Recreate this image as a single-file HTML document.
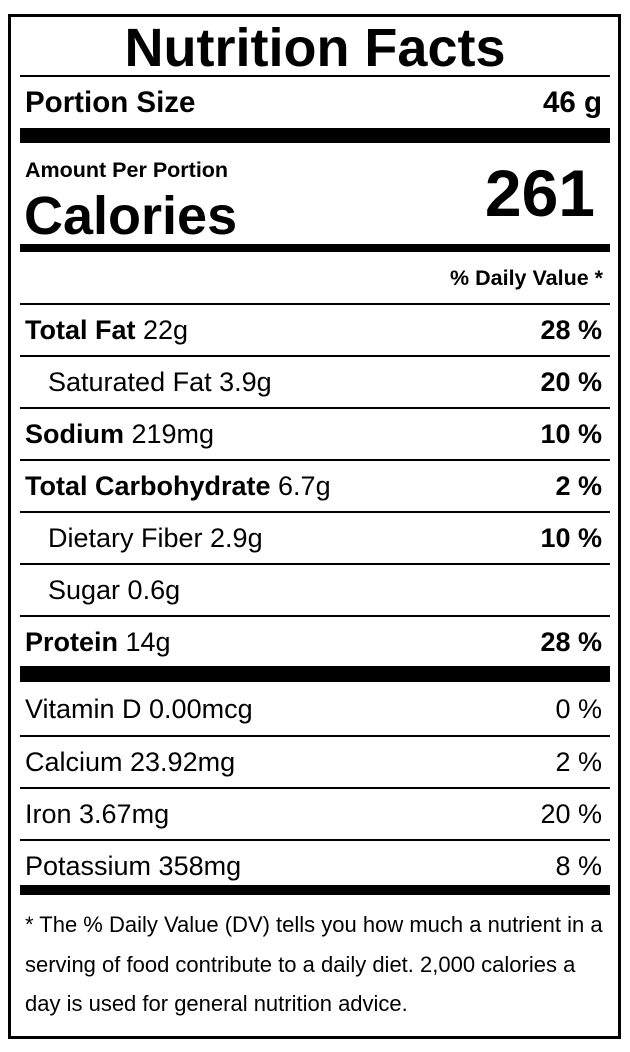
<!DOCTYPE html>
<html><head><meta charset="utf-8"><style>
*{margin:0;padding:0;box-sizing:border-box}
html,body{width:630px;height:1052px;background:#fff;overflow:hidden}
body{position:relative;font-family:"Liberation Sans",Arial,sans-serif;color:#000}
.box{position:absolute;left:8px;top:14px;width:613px;height:1025px;border:3px solid #000}
.ln{position:absolute;left:20px;width:590px;background:#000}
.t{position:absolute;white-space:nowrap}
.row{position:absolute;left:25px;width:577px;display:flex;justify-content:space-between;align-items:center;font-size:27px;height:50px}
b{font-weight:bold}
</style></head><body>
<div class="box"></div>
<div class="t" style="left:0;width:630px;text-align:center;top:17px;font-size:54px;font-weight:bold;line-height:62px">Nutrition Facts</div>
<div class="ln" style="top:75px;height:2px"></div>
<div class="row" style="top:78px;font-size:29.5px;font-weight:bold"><span>Portion Size</span><span>46 g</span></div>
<div class="ln" style="top:128px;height:15px"></div>
<div class="t" style="left:25px;top:158px;font-size:21.5px;font-weight:bold;line-height:24px">Amount Per Portion</div>
<div class="t" style="left:24px;top:186px;font-size:54px;font-weight:bold;line-height:60px">Calories</div>
<div class="t" style="right:35px;top:155px;font-size:66px;font-weight:bold;line-height:76px">261</div>
<div class="ln" style="top:244px;height:8px"></div>
<div class="t" style="right:27px;top:266px;font-size:21.5px;font-weight:bold;line-height:24px">% Daily Value *</div>
<div class="ln" style="top:303px;height:2px"></div>
<div class="row" style="top:305px"><span><b>Total Fat</b> 22g</span><b>28 %</b></div>
<div class="ln" style="top:355px;height:2px"></div>
<div class="row" style="top:357px"><span style="padding-left:23px">Saturated Fat 3.9g</span><b>20 %</b></div>
<div class="ln" style="top:407px;height:2px"></div>
<div class="row" style="top:409px"><span><b>Sodium</b> 219mg</span><b>10 %</b></div>
<div class="ln" style="top:459px;height:2px"></div>
<div class="row" style="top:461px"><span><b>Total Carbohydrate</b> 6.7g</span><b>2 %</b></div>
<div class="ln" style="top:511px;height:2px"></div>
<div class="row" style="top:513px"><span style="padding-left:23px">Dietary Fiber 2.9g</span><b>10 %</b></div>
<div class="ln" style="top:563px;height:2px"></div>
<div class="row" style="top:565px"><span style="padding-left:23px">Sugar 0.6g</span><span></span></div>
<div class="ln" style="top:615px;height:2px"></div>
<div class="row" style="top:617px"><span><b>Protein</b> 14g</span><b>28 %</b></div>
<div class="ln" style="top:666px;height:16px"></div>
<div class="row" style="top:684px"><span>Vitamin D 0.00mcg</span><span>0 %</span></div>
<div class="ln" style="top:735px;height:2px"></div>
<div class="row" style="top:737px"><span>Calcium 23.92mg</span><span>2 %</span></div>
<div class="ln" style="top:787px;height:2px"></div>
<div class="row" style="top:789px"><span>Iron 3.67mg</span><span>20 %</span></div>
<div class="ln" style="top:839px;height:2px"></div>
<div class="row" style="top:841px"><span>Potassium 358mg</span><span>8 %</span></div>
<div class="ln" style="top:885px;height:10px"></div>
<div class="t" style="left:25px;top:905px;font-size:22px;line-height:39.5px">* The % Daily Value (DV) tells you how much a nutrient in a<br>serving of food contribute to a daily diet. 2,000 calories a<br>day is used for general nutrition advice.</div>
</body></html>
